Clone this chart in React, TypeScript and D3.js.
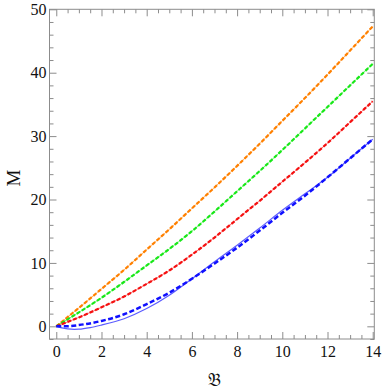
import React, { useRef, useEffect } from 'react';
import * as d3 from 'd3';

// B values for the dashed curves
const bGrid = [0, 0.5, 1, 2, 3, 4, 5, 6, 7, 8, 9, 10, 11, 12, 13, 14];
const orangeM = [0, 1.45, 2.9, 5.9, 8.9, 12.1, 15.3, 18.6, 21.9, 25.3, 28.8, 32.4, 36.0, 39.7, 43.5, 47.3];
const greenM = [0, 1.1, 2.2, 4.5, 7.0, 9.6, 12.2, 15.0, 18.1, 21.3, 24.5, 27.8, 31.2, 34.6, 38.0, 41.4];
const redM = [0, 0.7, 1.4, 3.0, 4.7, 6.7, 8.8, 11.3, 14.0, 16.9, 19.8, 22.8, 25.8, 28.9, 32.2, 35.5];
const blueDashedM = [0, 0.02, 0.2, 0.85, 1.9, 3.5, 5.3, 7.5, 9.9, 12.4, 15.1, 17.9, 20.6, 23.5, 26.5, 29.5];

// thin solid blue curve
const bSolid = [0, 0.25, 0.5, 0.8, 1, 1.5, 2, 3, 4, 5, 6, 7, 8, 9, 10, 11, 12, 13, 14];
const blueSolidM = [0, -0.25, -0.4, -0.47, -0.45, -0.2, 0.2, 1.2, 2.8, 4.9, 7.5, 10.2, 12.8, 15.5, 18.3, 20.9, 23.5, 26.5, 29.5];

const xMajor = [0, 2, 4, 6, 8, 10, 12, 14];
const yMajor = [0, 10, 20, 30, 40, 50];

const App = () => {
  const svgRef = useRef(null);

  useEffect(() => {
    const W = 382, H = 391;
    const svg = d3.select(svgRef.current);
    svg.selectAll('*').remove();
    svg.attr('width', W).attr('height', H);

    const x = d3.scaleLinear().domain([-0.3, 14.07]).range([49.5, 374.3]);
    const y = d3.scaleLinear().domain([-2, 50]).range([339, 9.3]);
    const [x0, x1] = x.range();
    const [y0, y1] = y.range();

    const frameColor = '#8c8c8c';
    const serif = '"Liberation Serif", "Times New Roman", serif';
    const xMinor = d3.range(0, 14.01, 0.5).filter(v => !xMajor.includes(v));
    const yMinor = d3.range(-2, 50.01, 2).filter(v => !yMajor.includes(v));

    const styleAxis = (g, labels) => {
      g.attr('font-family', serif).attr('font-size', 16);
      g.select('.domain').remove();
      g.selectAll('line').attr('stroke', frameColor);
      g.selectAll('text')
        .attr('fill', '#111')
        .style('display', labels ? null : 'none');
    };

    // bottom
    svg.append('g').attr('transform', `translate(0,${y0})`)
      .call(d3.axisBottom(x).tickValues(xMajor).tickSizeInner(-7).tickPadding(6.6).tickFormat(d3.format('d')))
      .call(g => styleAxis(g, true));
    svg.append('g').attr('transform', `translate(0,${y0})`)
      .call(d3.axisBottom(x).tickValues(xMinor).tickSizeInner(-4).tickFormat(() => ''))
      .call(g => styleAxis(g, false));
    // top
    svg.append('g').attr('transform', `translate(0,${y1})`)
      .call(d3.axisTop(x).tickValues(xMajor).tickSizeInner(-7).tickFormat(() => ''))
      .call(g => styleAxis(g, false));
    svg.append('g').attr('transform', `translate(0,${y1})`)
      .call(d3.axisTop(x).tickValues(xMinor).tickSizeInner(-4).tickFormat(() => ''))
      .call(g => styleAxis(g, false));
    // left
    svg.append('g').attr('transform', `translate(${x0},0)`)
      .call(d3.axisLeft(y).tickValues(yMajor).tickSizeInner(-7).tickPadding(3).tickFormat(d3.format('d')))
      .call(g => styleAxis(g, true));
    svg.append('g').attr('transform', `translate(${x0},0)`)
      .call(d3.axisLeft(y).tickValues(yMinor).tickSizeInner(-4).tickFormat(() => ''))
      .call(g => styleAxis(g, false));
    // right
    svg.append('g').attr('transform', `translate(${x1},0)`)
      .call(d3.axisRight(y).tickValues(yMajor).tickSizeInner(-7).tickFormat(() => ''))
      .call(g => styleAxis(g, false));
    svg.append('g').attr('transform', `translate(${x1},0)`)
      .call(d3.axisRight(y).tickValues(yMinor).tickSizeInner(-4).tickFormat(() => ''))
      .call(g => styleAxis(g, false));

    // frame
    svg.append('rect')
      .attr('x', x0).attr('y', y1)
      .attr('width', x1 - x0).attr('height', y0 - y1)
      .attr('fill', 'none').attr('stroke', frameColor).attr('stroke-width', 1);

    const plot = svg.append('g');
    const line = d3.line().curve(d3.curveMonotoneX).x(d => x(d[0])).y(d => y(d[1]));
    const zip = (xs, ys) => xs.map((v, i) => [v, ys[i]]);

    const series = [
      { ys: orangeM, color: '#ff8000' },
      { ys: greenM, color: '#18e818' },
      { ys: redM, color: '#f51010' },
    ];

    // thin solid lines underneath
    series.forEach(s => {
      plot.append('path').datum(zip(bGrid, s.ys))
        .attr('fill', 'none').attr('stroke', s.color).attr('stroke-opacity', 0.6)
        .attr('stroke-width', 1).attr('d', line);
    });
    plot.append('path').datum(zip(bSolid, blueSolidM))
      .attr('fill', 'none').attr('stroke', '#4040ff').attr('stroke-opacity', 0.85)
      .attr('stroke-width', 1.2).attr('d', line);

    // dashed curves
    series.forEach(s => {
      plot.append('path').datum(zip(bGrid, s.ys))
        .attr('fill', 'none').attr('stroke', s.color)
        .attr('stroke-width', 2.2).attr('stroke-dasharray', '4,2').attr('d', line);
    });
    plot.append('path').datum(zip(bGrid, blueDashedM))
      .attr('fill', 'none').attr('stroke', '#1010ff')
      .attr('stroke-width', 2.5).attr('stroke-dasharray', '5,2.5').attr('d', line);

    // axis labels
    svg.append('text')
      .attr('transform', `translate(20,${(y0 + y1) / 2 + 4}) rotate(-90)`)
      .attr('text-anchor', 'middle')
      .attr('font-family', serif)
      .attr('font-size', 19)
      .attr('fill', '#111')
      .text('M');

    svg.append('text')
      .attr('x', x(7.0))
      .attr('y', 386)
      .attr('text-anchor', 'middle')
      .attr('font-family', '"DejaVu Sans", "DejaVu Serif", "Noto Sans", serif')
      .attr('font-size', 18)
      .attr('fill', '#111')
      .text('\u{1D505}');
  }, []);

  return (
    <svg ref={svgRef} style={{ position: 'absolute', left: 0, top: 0, background: '#fff' }}></svg>
  );
};

export default App;
